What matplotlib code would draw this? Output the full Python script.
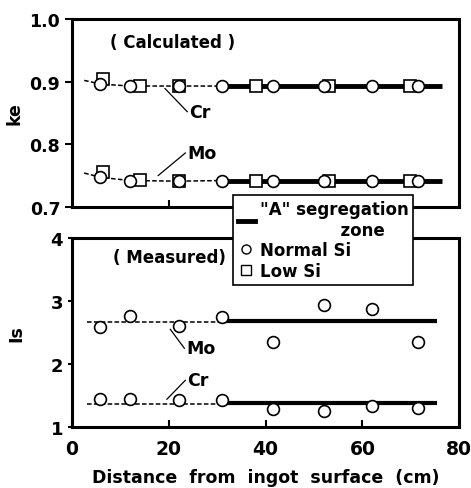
import matplotlib.pyplot as plt
from matplotlib.lines import Line2D

plt.rcParams['font.family'] = 'DejaVu Sans'
plt.rcParams['font.weight'] = 'bold'

# calculated ke, normal Si (circles) and low Si (squares)
normal_x = [5.8, 12, 22, 31, 41.5, 52, 62, 71.5]
low_x = [6.4, 14, 22, 38, 53, 69.8]
cr_ke_normal = [0.896, 0.893, 0.893, 0.893, 0.893, 0.893, 0.893, 0.893]
cr_ke_low = [0.905, 0.893, 0.893, 0.893, 0.893, 0.893]
mo_ke_normal = [0.748, 0.742, 0.741, 0.742, 0.742, 0.742, 0.742, 0.742]
mo_ke_low = [0.755, 0.743, 0.742, 0.742, 0.742, 0.742]

# dashed trend before segregation zone, solid thick line in zone
dash_x = [2.5, 6, 12, 22, 31]
cr_ke_dash = [0.902, 0.896, 0.893, 0.893, 0.893]
mo_ke_dash = [0.754, 0.747, 0.742, 0.741, 0.742]
zone_x = [31, 76.5]
cr_ke_zone = [0.893, 0.893]
mo_ke_zone = [0.742, 0.742]

# measured Is, normal Si
meas_x = [5.8, 12, 22, 31, 41.5, 52, 62, 71.5]
mo_is = [2.58, 2.77, 2.61, 2.74, 2.35, 2.93, 2.88, 2.35]
cr_is = [1.44, 1.45, 1.42, 1.42, 1.28, 1.26, 1.33, 1.30]
meas_dash_x = [3, 31]
mo_is_dash = [2.66, 2.66]
cr_is_dash = [1.36, 1.36]
meas_zone_x = [31, 75.5]
mo_is_zone = [2.69, 2.69]
cr_is_zone = [1.38, 1.38]

fig = plt.figure(figsize=(4.71, 4.89), dpi=100)
ax1 = fig.add_axes([0.153, 0.575, 0.822, 0.384])
ax2 = fig.add_axes([0.153, 0.125, 0.822, 0.386])

circ = dict(marker='o', ms=8.5, mfc='white', mec='black', mew=1.2, ls='none', zorder=5)
sq = dict(marker='s', ms=8.5, mfc='white', mec='black', mew=1.2, ls='none', zorder=4)


def label(ax, text, start, end):
    # leader line from the curve to the text
    ax.plot([start[0], end[0]], [start[1], end[1]], 'k-', lw=0.9)
    ax.text(end[0] + 0.4, end[1], text, fontsize=12.5, fontweight='bold',
            va='center', ha='left')


# top: calculated
for yd, yz, yn, yl in [(cr_ke_dash, cr_ke_zone, cr_ke_normal, cr_ke_low),
                       (mo_ke_dash, mo_ke_zone, mo_ke_normal, mo_ke_low)]:
    ax1.plot(dash_x, yd, 'k--', lw=1.1, dashes=(3, 1.5))
    ax1.plot(zone_x, yz, 'k-', lw=3.5, solid_capstyle='butt')
    ax1.plot(low_x, yl, **sq)
    ax1.plot(normal_x, yn, **circ)

ax1.set_xlim(0, 80)
ax1.set_ylim(0.7, 1.0)
ax1.set_yticks([0.7, 0.8, 0.9, 1.0])
ax1.set_yticklabels(['0.7', '0.8', '0.9', '1.0'])
ax1.set_xticks([20, 40, 60])
ax1.tick_params(axis='x', direction='in', labelbottom=False, length=5, width=1.5)
ax1.tick_params(axis='y', direction='out', length=5, width=1.5, labelsize=12.5)
ax1.set_ylabel('ke', fontsize=12.5, fontweight='bold', labelpad=4)
ax1.text(0.098, 0.88, '( Calculated )', transform=ax1.transAxes, fontsize=12,
         fontweight='bold', va='center')
label(ax1, 'Cr', (19.2, 0.889), (23.8, 0.852))
label(ax1, 'Mo', (17.8, 0.750), (23.4, 0.786))

# bottom: measured
for yd, yz, ym in [(mo_is_dash, mo_is_zone, mo_is), (cr_is_dash, cr_is_zone, cr_is)]:
    ax2.plot(meas_dash_x, yd, 'k--', lw=1.1, dashes=(3, 1.5))
    ax2.plot(meas_zone_x, yz, 'k-', lw=3, solid_capstyle='butt')
    ax2.plot(meas_x, ym, **circ)

ax2.set_xlim(0, 80)
ax2.set_ylim(1, 4)
ax2.set_yticks([1, 2, 3, 4])
ax2.set_xticks([0, 20, 40, 60, 80])
ax2.tick_params(axis='x', direction='in', length=5, width=1.5, labelsize=13.5, pad=9)
ax2.tick_params(axis='y', direction='out', length=3, width=1.5, labelsize=13)
ax2.set_ylabel('Is', fontsize=12.5, fontweight='bold', labelpad=18)
ax2.set_xlabel('Distance  from  ingot  surface  (cm)', fontsize=12.5, fontweight='bold',
               labelpad=7)
ax2.text(0.106, 0.90, '( Measured)', transform=ax2.transAxes, fontsize=12,
         fontweight='bold', va='center')
label(ax2, 'Mo', (20.3, 2.55), (23.2, 2.25))
label(ax2, 'Cr', (19.6, 1.44), (23.4, 1.74))

for ax in (ax1, ax2):
    for s in ax.spines.values():
        s.set_linewidth(2.2)

handles = [
    Line2D([], [], color='black', lw=3.5),
    Line2D([], [], marker='o', ms=6.5, mfc='white', mec='black', ls='none'),
    Line2D([], [], marker='s', ms=6.5, mfc='white', mec='black', ls='none'),
]
labels = ['"A" segregation\n              zone', 'Normal Si', 'Low Si']
leg = fig.legend(handles, labels, loc='upper left', bbox_to_anchor=(233 / 471, 1 - 196 / 489),
                 fancybox=False, framealpha=1, edgecolor='black', fontsize=12,
                 handlelength=1.0, handletextpad=0.3, borderpad=0.3, labelspacing=0.15,
                 borderaxespad=0)
leg.get_frame().set_linewidth(1.2)

fig.savefig('out.png', dpi=100)
